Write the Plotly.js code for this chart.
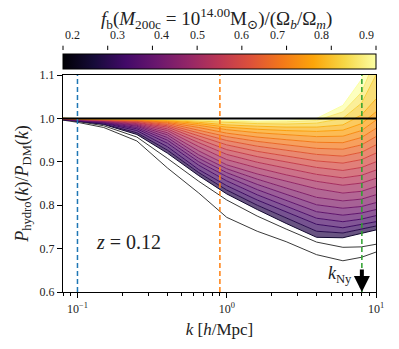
<!DOCTYPE html>
<html>
<head>
<meta charset="utf-8">
<script src="https://cdn.plot.ly/plotly-3.0.1.min.js"></script>
<style>
  body { margin: 0; background: #fff; }
  #chart { width: 399px; height: 349px; }
</style>
</head>
<body>
<div id="chart"></div>
<script>
var kVals = [0.08, 0.1, 0.15, 0.25, 0.4, 0.65, 1.0, 1.6, 2.5, 4.0, 6.0, 8.0, 10.0];

// baryon fraction of each curve (colour value)
var fbVals = [0.20, 0.22, 0.26, 0.30, 0.33, 0.36, 0.39, 0.42, 0.45, 0.48, 0.51, 0.54,
              0.57, 0.60, 0.63, 0.66, 0.69, 0.72, 0.75, 0.78, 0.82, 0.86, 0.90];

// P_hydro / P_DM, one row per curve
var ratios = [
  [0.996, 0.991, 0.979, 0.948, 0.886, 0.828, 0.772, 0.740, 0.716, 0.686, 0.672, 0.680, 0.692],
  [0.997, 0.993, 0.983, 0.957, 0.908, 0.855, 0.812, 0.775, 0.745, 0.715, 0.703, 0.704, 0.710],
  [0.997, 0.994, 0.986, 0.963, 0.920, 0.868, 0.826, 0.790, 0.758, 0.726, 0.725, 0.735, 0.743],
  [0.997, 0.994, 0.987, 0.967, 0.927, 0.875, 0.835, 0.800, 0.770, 0.740, 0.736, 0.745, 0.752],
  [0.998, 0.995, 0.989, 0.972, 0.935, 0.882, 0.845, 0.812, 0.785, 0.756, 0.748, 0.755, 0.762],
  [0.998, 0.995, 0.990, 0.976, 0.943, 0.892, 0.856, 0.824, 0.798, 0.770, 0.762, 0.768, 0.776],
  [0.998, 0.996, 0.991, 0.979, 0.950, 0.900, 0.866, 0.836, 0.811, 0.785, 0.777, 0.782, 0.790],
  [0.998, 0.996, 0.992, 0.982, 0.956, 0.908, 0.875, 0.848, 0.825, 0.801, 0.793, 0.797, 0.806],
  [0.999, 0.997, 0.993, 0.984, 0.962, 0.916, 0.884, 0.860, 0.840, 0.818, 0.810, 0.814, 0.824],
  [0.999, 0.997, 0.994, 0.986, 0.967, 0.925, 0.893, 0.872, 0.855, 0.838, 0.828, 0.832, 0.843],
  [0.999, 0.997, 0.995, 0.988, 0.972, 0.935, 0.905, 0.886, 0.870, 0.855, 0.846, 0.851, 0.862],
  [0.999, 0.998, 0.995, 0.990, 0.976, 0.944, 0.917, 0.899, 0.885, 0.871, 0.863, 0.869, 0.881],
  [0.999, 0.998, 0.996, 0.991, 0.980, 0.952, 0.928, 0.912, 0.899, 0.887, 0.880, 0.887, 0.900],
  [0.999, 0.998, 0.997, 0.993, 0.983, 0.960, 0.939, 0.924, 0.913, 0.902, 0.897, 0.905, 0.920],
  [1.000, 0.999, 0.997, 0.994, 0.986, 0.967, 0.949, 0.936, 0.926, 0.917, 0.913, 0.922, 0.939],
  [1.000, 0.999, 0.998, 0.995, 0.989, 0.973, 0.958, 0.947, 0.939, 0.931, 0.929, 0.939, 0.958],
  [1.000, 0.999, 0.998, 0.996, 0.991, 0.979, 0.966, 0.957, 0.951, 0.945, 0.944, 0.956, 0.977],
  [1.000, 0.999, 0.998, 0.997, 0.993, 0.984, 0.974, 0.967, 0.962, 0.958, 0.959, 0.972, 0.996],
  [1.000, 0.999, 0.999, 0.998, 0.995, 0.988, 0.980, 0.975, 0.972, 0.970, 0.973, 0.988, 1.015],
  [1.000, 1.000, 0.999, 0.998, 0.996, 0.991, 0.985, 0.982, 0.980, 0.980, 0.985, 1.008, 1.045],
  [1.000, 1.000, 0.999, 0.999, 0.997, 0.994, 0.990, 0.988, 0.987, 0.989, 1.000, 1.035, 1.100],
  [1.000, 1.000, 1.000, 0.999, 0.998, 0.996, 0.993, 0.992, 0.992, 0.995, 1.015, 1.060, 1.140],
  [1.000, 1.000, 1.000, 0.999, 0.999, 0.997, 0.995, 0.994, 0.995, 1.000, 1.030, 1.090, 1.180]
];

// colour bar ticks
var cbTicks = [0.2, 0.3, 0.4, 0.5, 0.6, 0.7, 0.8, 0.9];

// marker lines
var kCuts = [0.1, 0.9, 8.04];
var cutColors = ['#1f77b4', '#ff7f0e', '#2ca02c'];
var kNy = 8.04;

var fbMin = 0.2, fbMax = 0.9;
var inferno = [
  [0.0, '#000004'], [0.1, '#160b39'], [0.2, '#420a68'], [0.3, '#6a176e'],
  [0.4, '#932667'], [0.5, '#bc3754'], [0.6, '#dd513a'], [0.7, '#f37819'],
  [0.8, '#fca50a'], [0.9, '#f6d746'], [1.0, '#fcffa4']
];

function hexRgb(h){
  return [parseInt(h.substr(1,2),16), parseInt(h.substr(3,2),16), parseInt(h.substr(5,2),16)];
}
function infernoColor(fb, alpha){
  var t = (fb - fbMin) / (fbMax - fbMin);
  t = Math.max(0, Math.min(1, t));
  for(var i = 0; i < inferno.length - 1; i++){
    var a = inferno[i], b = inferno[i+1];
    if(t <= b[0]){
      var f = (t - a[0]) / (b[0] - a[0]);
      var ca = hexRgb(a[1]), cb = hexRgb(b[1]);
      var c = [0,1,2].map(function(j){ return Math.round(ca[j] + f*(cb[j]-ca[j])); });
      return 'rgba(' + c[0] + ',' + c[1] + ',' + c[2] + ',' + alpha + ')';
    }
  }
  return 'rgba(252,255,164,' + alpha + ')';
}

var serif = '"Liberation Serif", "DejaVu Serif", serif';
var data = [];

for(var i = 0; i < ratios.length; i++){
  var dark = fbVals[i] < 0.24;
  data.push({
    x: kVals,
    y: ratios[i],
    type: 'scatter',
    mode: 'lines',
    line: {color: dark ? '#3a3a3a' : infernoColor(fbVals[i], 1), width: 1},
    fill: (!dark && fbVals[i] > 0.28) ? 'tonexty' : 'none',
    fillcolor: infernoColor(fbVals[i], 0.7),
    hoverinfo: 'skip',
    showlegend: false
  });
}

// colour bar placement in paper units (bar spans the plot width)
var cbAnchor = 1.097;
var cbTop = 1.115;

// dummy trace only for the colour bar
data.push({
  x: [0.05], y: [0.5],
  type: 'scatter', mode: 'markers',
  marker: {
    color: [fbMin], cmin: fbMin, cmax: fbMax, colorscale: inferno, size: 1,
    showscale: true,
    colorbar: {
      orientation: 'h',
      x: 0.5, xanchor: 'center', y: cbAnchor, yanchor: 'top',
      len: 1, lenmode: 'fraction', thickness: 15, xpad: 0, ypad: 0,
      outlinewidth: 1, outlinecolor: '#000',
      ticks: '', showticklabels: false
    }
  },
  hoverinfo: 'skip',
  showlegend: false
});

var shapes = [{
  type: 'line', xref: 'paper', x0: 0, x1: 1, yref: 'y', y0: 1, y1: 1,
  line: {color: '#000', width: 2}
}];
for(var j = 0; j < kCuts.length; j++){
  shapes.push({
    type: 'line', xref: 'x', x0: kCuts[j], x1: kCuts[j], yref: 'paper', y0: 0, y1: 1,
    line: {color: cutColors[j], width: 1.5, dash: '5px,3px'}
  });
}

var annotations = [
  {
    xref: 'paper', yref: 'paper', x: 0.49, y: 1.262, yanchor: 'middle',
    text: '<i>f</i><sub>b</sub>(<i>M</i><sub>200c</sub> = 10<sup>14.00</sup>M<sub>⊙</sub>)/(Ω<sub><i>b</i></sub>/Ω<sub><i>m</i></sub>)',
    showarrow: false,
    font: {family: serif, size: 19, color: '#222'}
  },
  {
    xref: 'x', yref: 'y', x: Math.log10(0.22), y: 0.715,
    text: '<i>z</i> = 0.12', showarrow: false,
    font: {family: serif, size: 20, color: '#222'}
  },
  {
    xref: 'x', yref: 'y', x: Math.log10(kNy), y: 0.6,
    text: '', showarrow: true, ax: 0, ay: -24,
    arrowhead: 2, arrowsize: 0.8, arrowwidth: 4, arrowcolor: '#000'
  },
  {
    xref: 'x', yref: 'y', x: Math.log10(7.1), y: 0.64,
    xanchor: 'right',
    text: '<i>k</i><sub>Ny</sub>', showarrow: false,
    font: {family: serif, size: 18, color: '#222'}
  }
];

// colour bar ticks and labels, placed from the colour scale range
cbTicks.forEach(function(v){
  var xp = (v - fbMin) / (fbMax - fbMin);
  shapes.push({
    type: 'line', xref: 'paper', yref: 'paper', x0: xp, x1: xp,
    y0: cbTop, y1: cbTop + 0.02, line: {color: '#000', width: 1}
  });
  annotations.push({
    xref: 'paper', yref: 'paper', x: xp, y: cbTop + 0.028, yanchor: 'bottom',
    text: v.toFixed(1), showarrow: false,
    font: {family: serif, size: 12, color: '#222'}
  });
});

var layout = {
  width: 399, height: 349,
  margin: {l: 63, r: 23, t: 75, b: 57, autoexpand: false},
  paper_bgcolor: '#fff', plot_bgcolor: '#fff',
  font: {family: serif, color: '#222'},
  xaxis: {
    type: 'log',
    range: [Math.log10(0.08), 1],
    tickvals: [0.1, 1, 10],
    ticktext: ['10<sup>−1</sup>', '10<sup>0</sup>', '10<sup>1</sup>'],
    ticks: 'outside', ticklen: 5, tickcolor: '#000',
    minor: {
      tickvals: [0.08, 0.09, 0.2, 0.3, 0.4, 0.5, 0.6, 0.7, 0.8, 0.9, 2, 3, 4, 5, 6, 7, 8, 9],
      ticks: 'outside', ticklen: 3, tickcolor: '#000'
    },
    showgrid: false, zeroline: false,
    showline: true, linecolor: '#000', linewidth: 1.2, mirror: true,
    tickfont: {family: serif, size: 12, color: '#222'},
    title: {text: '<i>k</i> [<i>h</i>/Mpc]', font: {family: serif, size: 17, color: '#222'}, standoff: 8}
  },
  yaxis: {
    range: [0.6, 1.1],
    tickvals: [0.6, 0.7, 0.8, 0.9, 1.0, 1.1],
    tickformat: '.1f',
    ticks: 'outside', ticklen: 5, tickcolor: '#000',
    showgrid: false, zeroline: false,
    showline: true, linecolor: '#000', linewidth: 1.2, mirror: true,
    tickfont: {family: serif, size: 12, color: '#222'},
    title: {text: '<i>P</i><sub>hydro</sub>(<i>k</i>)/<i>P</i><sub>DM</sub>(<i>k</i>)', font: {family: serif, size: 18, color: '#222'}, standoff: 6}
  },
  shapes: shapes,
  annotations: annotations
};

Plotly.newPlot('chart', data, layout, {displayModeBar: false, staticPlot: true});
</script>
</body>
</html>
